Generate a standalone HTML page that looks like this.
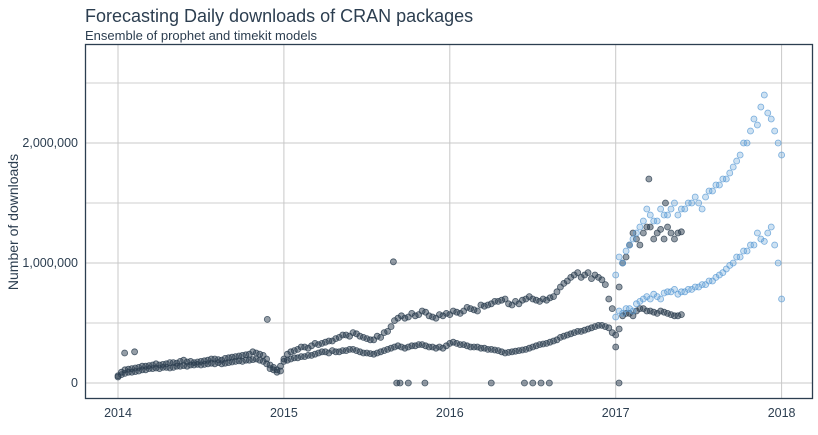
<!DOCTYPE html>
<html><head><meta charset="utf-8"><style>
body{margin:0;background:#fff;font-family:"Liberation Sans",sans-serif}
svg text{font-family:"Liberation Sans",sans-serif;fill:#2c3e50}
</style></head><body>
<svg id="chart" width="818" height="430">
<text x="85" y="22" font-size="18">Forecasting Daily downloads of CRAN packages</text>
<text x="85" y="40" font-size="13">Ensemble of prophet and timekit models</text>
<g id="grid"></g>
<g id="axes"></g>
<g id="pts"></g>
<rect x="85.5" y="44.5" width="727" height="354" fill="none" stroke="#2c3e50" stroke-width="1.3"/>
<text transform="translate(18,222) rotate(-90)" text-anchor="middle" font-size="14">Number of downloads</text>
</svg>
<script>
const yearTicks=[2014,2015,2016,2017,2018];
const yTicks=[0,1000000,2000000];
const yTickLabels=["0","1,000,000","2,000,000"];
const yMinor=[500000,1500000,2500000];
const actualStart=2014;
const actualUpper=[60,110,120,130,140,150,150,160,170,180,175,170,180,190,200,190,210,220,230,240,250,230,150,110,
200,260,280,300,310,320,340,350,380,400,420,390,370,360,380,430,520,560,550,560,600,560,540,560,
570,590,600,620,600,640,660,680,700,650,660,700,700,680,690,720,800,850,900,880,920,900,860,700,
400,1000,1150,1200,1250,1300,1250,1200,1250,1250];
const actualUpper2=[90,115,125,140,145,160,155,170,165,190,180,175,185,200,195,205,215,225,235,260,240,200,130,140,
240,270,300,290,330,330,350,370,400,390,410,380,360,390,420,470,540,540,580,570,590,550,570,580,
600,580,630,610,650,650,680,690,660,680,690,720,690,700,710,760,830,880,920,900,870,880,820,620,
800,1050,1250,1150,1300,1200,1280,1300,1200,1260];
const actualLower=[50,80,90,100,110,120,120,130,130,140,140,150,150,160,160,160,170,180,180,190,200,180,120,90,
180,200,210,220,230,250,260,270,260,270,280,260,250,240,260,280,300,300,300,310,320,300,290,290,
330,330,320,300,300,290,280,270,250,260,270,280,300,320,330,350,380,400,420,430,450,470,480,460,
300,560,580,600,620,600,580,590,570,560];
const actualLower2=[70,90,95,110,120,125,130,125,140,145,150,155,155,165,170,165,175,185,190,195,190,160,110,100,
190,210,220,230,240,260,250,260,270,280,270,250,245,250,270,290,310,290,310,320,310,300,300,310,
340,320,310,300,290,280,275,260,255,265,275,290,310,325,340,360,390,410,430,440,460,480,470,420,
450,580,560,620,600,590,600,580,560,570];
const outlierDates=[2014.04,2014.1,2014.9,2015.66,2015.68,2015.7,2015.75,2015.85,2016.25,2016.45,2016.5,2016.55,2016.6,2017.02,2017.2,2017.3];
const outlierValues=[250,260,530,1010,0,0,0,0,0,0,0,0,0,0,1700,1500];
const fcStart=2017;
const fcUpper=[900,1000,1150,1250,1350,1400,1350,1400,1450,1400,1450,1500,1500,1550,1600,1650,1700,1800,1900,2000,2200,2300,2250,2100,1900];
const fcUpper2=[1050,1100,1200,1300,1450,1350,1450,1400,1500,1450,1500,1550,1450,1600,1650,1700,1750,1850,2000,2100,2150,2400,2200,2000];
const fcLower=[550,580,620,660,700,700,720,750,760,740,760,780,800,820,850,900,950,1000,1050,1100,1150,1200,1250,1150,700];
const fcLower2=[600,620,600,680,720,740,700,760,780,760,780,800,820,850,880,920,980,1050,1100,1150,1250,1180,1300,1000];
const NS="http://www.w3.org/2000/svg";
const x=t=>118+(t-2014)*165.9;
const y=v=>383-v/1000000*120;
function mk(tag,attrs,parent){const e=document.createElementNS(NS,tag);for(const k in attrs)e.setAttribute(k,attrs[k]);parent.appendChild(e);return e;}
const grid=document.getElementById('grid'),axes=document.getElementById('axes'),pts=document.getElementById('pts');
yMinor.forEach(v=>{const l=mk('line',{x1:86,x2:812,y1:y(v),y2:y(v),stroke:'#cfcfcf','stroke-width':1},grid);

});
yTicks.forEach((v,i)=>{const l=mk('line',{x1:86,x2:812,y1:y(v),y2:y(v),stroke:'#c8c8c8','stroke-width':1},grid);


const t=mk('text',{x:78,y:y(v)+4,'text-anchor':'end','font-size':12.5},axes);t.textContent=yTickLabels[i];

});
yearTicks.forEach(yr=>{const l=mk('line',{x1:x(yr),x2:x(yr),y1:45,y2:398,stroke:'#c8c8c8','stroke-width':1},grid);


const t=mk('text',{x:x(yr),y:417,'text-anchor':'middle','font-size':12.5},axes);t.textContent=yr;

});
function dot(t,v,fc,op,name){const c=mk('circle',{cx:x(t),cy:y(v*1000),r:3,fill:fc,'fill-opacity':op,stroke:fc,'stroke-opacity':0.8,'stroke-width':0.8},pts);

}
actualUpper.forEach((v,i)=>dot(actualStart+i/24,v,'#2c3e50',0.5,'actual-point'));
actualUpper2.forEach((v,i)=>dot(actualStart+i/24+1/48,v,'#2c3e50',0.5,'actual-point'));
actualLower.forEach((v,i)=>dot(actualStart+i/24,v,'#2c3e50',0.5,'actual-point'));
actualLower2.forEach((v,i)=>dot(actualStart+i/24+1/48,v,'#2c3e50',0.5,'actual-point'));
outlierDates.forEach((t,i)=>dot(t,outlierValues[i],'#2c3e50',0.5,'actual-outlier'));
fcUpper.forEach((v,i)=>dot(fcStart+i/24,v,'#5b9bd5',0.3,'forecast-point'));
fcUpper2.forEach((v,i)=>dot(fcStart+i/24+1/48,v,'#5b9bd5',0.3,'forecast-point'));
fcLower.forEach((v,i)=>dot(fcStart+i/24,v,'#5b9bd5',0.3,'forecast-point'));
fcLower2.forEach((v,i)=>dot(fcStart+i/24+1/48,v,'#5b9bd5',0.3,'forecast-point'));
</script>
</body></html>
